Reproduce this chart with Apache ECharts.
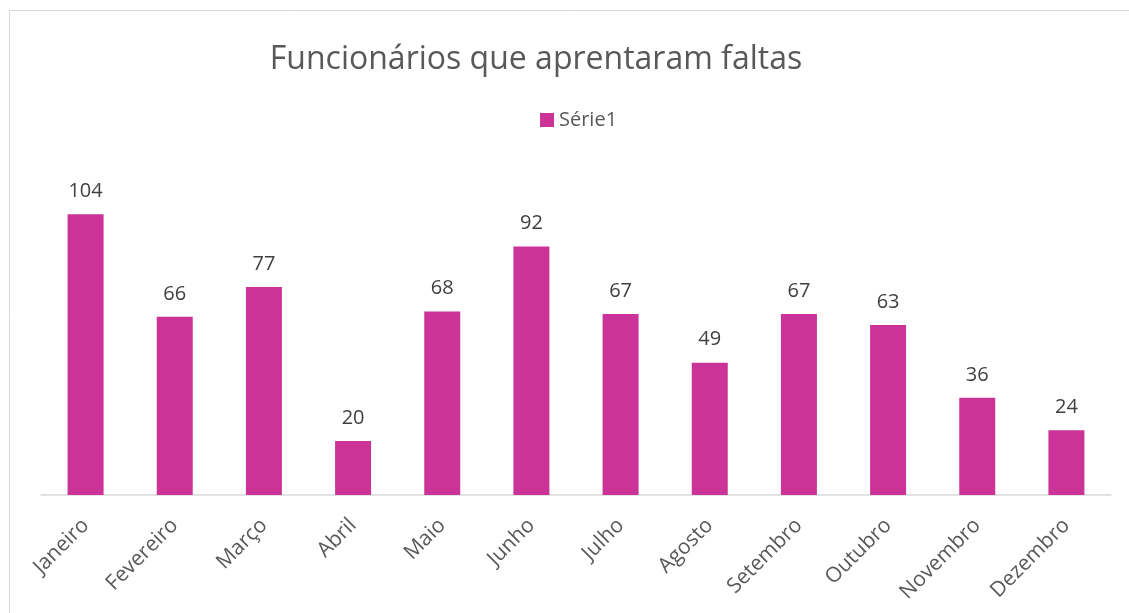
<!DOCTYPE html>
<html><head><meta charset="utf-8">
<script src="https://cdn.jsdelivr.net/npm/echarts@6/dist/echarts.min.js"></script>
<style>html,body{margin:0;padding:0;background:#fff;}#c{width:1129px;height:613px;}</style>
</head><body><div id="c"></div>
<script>
const categories = ['Janeiro','Fevereiro','Março','Abril','Maio','Junho','Julho','Agosto','Setembro','Outubro','Novembro','Dezembro'];
const values = [104,66,77,20,68,92,67,49,67,63,36,24];
const seriesName = 'Série1';
const titleText = 'Funcionários que aprentaram faltas';
const chart = echarts.init(document.getElementById('c'));
const font = 'Open Sans';
chart.setOption({
  animation:false,
  graphic:[{type:'rect',shape:{x:9.5,y:10.5,width:1130,height:620},style:{fill:'none',stroke:'#D9D9D9',lineWidth:1},silent:true}],
  title:{text:titleText,left:531,textAlign:'center',top:39,textStyle:{fontFamily:font,fontSize:32,fontWeight:'normal',color:'#595959'}},
  legend:{data:[seriesName],left:540,top:110,padding:0,icon:'rect',itemWidth:14,itemHeight:14,itemGap:5,textStyle:{fontFamily:font,fontSize:20,color:'#595959'}},
  grid:{left:41,right:18,top:171,bottom:118},
  xAxis:{type:'category',data:categories,axisLine:{lineStyle:{color:'#D9D9D9',width:1.5}},axisTick:{show:false},
    axisLabel:{rotate:45,interval:0,fontFamily:font,fontSize:21,color:'#595959',margin:27}},
  yAxis:{type:'value',min:0,max:120,show:false,splitLine:{show:false}},
  series:[{name:seriesName,type:'bar',data:values,barWidth:36,itemStyle:{color:'#CC3399'},
    label:{show:true,position:'top',distance:13,fontFamily:font,fontSize:20,color:'#404040'}}]
});
</script></body></html>
